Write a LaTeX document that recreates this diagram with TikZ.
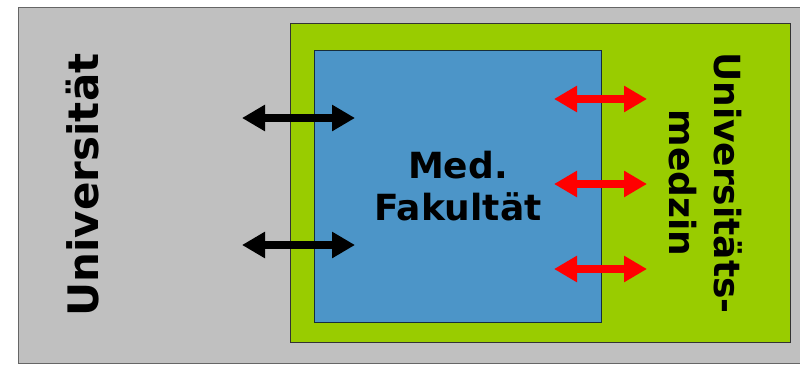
\documentclass[tikz,border=0pt]{standalone}
\usepackage{fontspec}
\setmainfont{DejaVu Sans}
\usetikzlibrary{arrows.meta}
\definecolor{unigray}{HTML}{C0C0C0}
\definecolor{unigreen}{HTML}{99CC00}
\definecolor{uniblue}{HTML}{4C95C8}
\tikzset{
  x=1pt, y=-1pt,
  dbl/.style={line width=7.5pt, {Triangle[length=23pt,width=25pt]}-{Triangle[length=23pt,width=25pt]}},
  bigtext/.style={font=\bfseries, text=black, inner sep=0pt},
}
\begin{document}
\begin{tikzpicture}
\useasboundingbox (0,0) rectangle (800,364);
% university background
\fill[unigray] (18,7) rectangle (800,363);
\draw[gray!80!black, line width=1pt] (800,7) -- (18,7) -- (18,363) -- (800,363);
% green box
\node[draw=black!80, line width=0.8pt, fill=unigreen, minimum width=500pt, minimum height=319pt, inner sep=0pt, anchor=north west] (green) at (290,23) {};
% blue box
\node[draw=black!70!uniblue, line width=0.8pt, fill=uniblue, minimum width=287pt, minimum height=272pt, inner sep=0pt, anchor=north west] (blue) at (314,50) {};
% texts
\node[bigtext, rotate=90, font=\fontsize{42}{50}\selectfont\bfseries] (uni) at (83,185) {Universität};
\node[bigtext, align=center, font=\fontsize{36}{42}\selectfont\bfseries] (fak) at (blue.center) {Med.\\Fakultät};
\node[bigtext, rotate=-90, align=center, font=\fontsize{36}{45}\selectfont\bfseries] (um) at (706,183) {Universitäts-\\medzin};
% arrow end points
\coordinate (a1l) at (242,118); \coordinate (a1r) at (355,118);
\coordinate (a2l) at (242,245); \coordinate (a2r) at (355,245);
\coordinate (r1l) at (554,99);  \coordinate (r1r) at (647,99);
\coordinate (r2l) at (554,184); \coordinate (r2r) at (647,184);
\coordinate (r3l) at (554,269); \coordinate (r3r) at (647,269);
\draw[dbl, black] (a1l) -- (a1r);
\draw[dbl, black] (a2l) -- (a2r);
\draw[dbl, red] (r1l) -- (r1r);
\draw[dbl, red] (r2l) -- (r2r);
\draw[dbl, red] (r3l) -- (r3r);
\end{tikzpicture}
\end{document}
